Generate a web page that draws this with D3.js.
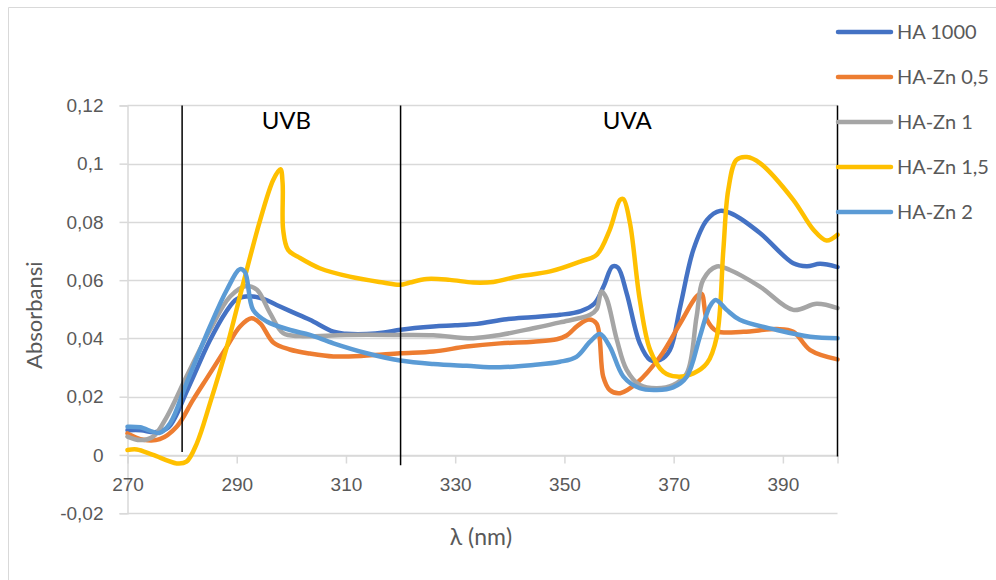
<!DOCTYPE html>
<html>
<head>
<meta charset="utf-8">
<script src="https://cdn.jsdelivr.net/npm/d3@7"></script>
<style>
  body { margin: 0; background: #fff; }
  svg { font-family: Lato, "Liberation Sans", sans-serif; }
</style>
</head>
<body>
<svg width="996" height="580"></svg>
<script>
// series values: [wavelength nm, absorbance]
const ha1000 = [[270,0.0085],[272.5,0.0085],[275,0.0078],[277.5,0.0095],[281,0.0225],[285,0.039],[288,0.049],[290,0.0535],[292.4,0.0545],[295,0.0535],[297.3,0.0515],[300,0.0492],[303.4,0.0464],[307.7,0.0423],[310,0.0416],[313.8,0.0415],[317,0.042],[320,0.043],[326,0.0441],[330,0.0445],[334,0.045],[339.4,0.0466],[344,0.0473],[349.2,0.0481],[353,0.0494],[355.5,0.052],[357.2,0.058],[358.8,0.0647],[359.8,0.0643],[361.4,0.0555],[363.8,0.0383],[365.7,0.0326],[367.5,0.0326],[369.3,0.036],[371.2,0.0509],[373.6,0.0704],[376.1,0.0807],[378.5,0.0838],[380.9,0.0826],[385.8,0.0762],[391.9,0.0658],[394.4,0.0648],[396.8,0.0656],[400,0.0645]]
const haZn05 = [[270,0.0074],[272.9,0.0052],[275.9,0.0054],[279,0.0097],[282,0.0189],[285.1,0.028],[288.2,0.0372],[290.6,0.0441],[292.7,0.0469],[294.3,0.0452],[296.7,0.0386],[299.7,0.0362],[303.4,0.0348],[307.7,0.0338],[313.8,0.0341],[319.9,0.0349],[326,0.0355],[332.1,0.0372],[338.2,0.0383],[344.3,0.0389],[348.6,0.0397],[350.4,0.041],[352.5,0.0445],[354.5,0.0465],[355.9,0.045],[357.1,0.0269],[358.3,0.0223],[360.2,0.0212],[363.2,0.0246],[367.5,0.0337],[371.2,0.0452],[374.2,0.0544],[375.1,0.0553],[376.1,0.0464],[377.9,0.0425],[382.8,0.0423],[388.9,0.0432],[391.9,0.0423],[395,0.036],[400,0.0328]]
const haZn1 = [[270,0.0063],[272.3,0.0051],[274.7,0.0063],[277.2,0.0131],[280.8,0.0269],[285.1,0.0429],[288.8,0.0544],[291.8,0.058],[293.7,0.0567],[296.1,0.0487],[298.5,0.0418],[301.6,0.0408],[310,0.0412],[319.9,0.0412],[326,0.0411],[333.3,0.0401],[338.2,0.0412],[344.3,0.0435],[349.2,0.0455],[354.7,0.0481],[355.9,0.05],[356.8,0.0561],[357.7,0.0538],[359.6,0.0395],[361.4,0.0292],[363.8,0.024],[366.9,0.0229],[369.9,0.024],[372.4,0.028],[374.2,0.0475],[375.4,0.0601],[377.9,0.0647],[380.3,0.0635],[385.8,0.0578],[391.9,0.0498],[396.2,0.0519],[400,0.0504]]
const haZn15 = [[270,0.0017],[271.7,0.0019],[274.7,0.0],[279,-0.0029],[280.8,-0.0023],[282.7,0.004],[285.1,0.0177],[288.2,0.0372],[291.2,0.059],[294.3,0.0807],[296.7,0.0945],[298,0.0981],[298.4,0.0934],[298.5,0.0773],[299.4,0.0704],[301.6,0.0676],[305.2,0.0641],[310.7,0.0612],[316.8,0.0592],[319.9,0.0584],[321.7,0.0592],[324.8,0.0604],[329,0.0601],[333.3,0.0592],[337,0.0594],[341.3,0.0612],[347.4,0.063],[352.9,0.0664],[355.9,0.0687],[358.3,0.0773],[360.2,0.0876],[360.8,0.0878],[362,0.0796],[363.8,0.0532],[365.7,0.036],[368.1,0.0286],[370.6,0.0269],[373.6,0.028],[376.1,0.0315],[377.9,0.0406],[379.1,0.0704],[380,0.091],[381.5,0.1013],[383.4,0.1023],[385.8,0.1002],[391.9,0.0876],[395.6,0.0773],[398,0.0736],[400,0.0756]]
const haZn2 = [[270,0.0097],[272.3,0.0095],[275.9,0.0076],[277.8,0.0109],[280.8,0.0246],[285.1,0.0441],[288.2,0.0567],[290.6,0.0638],[291.5,0.0628],[293,0.0498],[295.5,0.0458],[299.8,0.0429],[303.4,0.0412],[307.7,0.0383],[313.8,0.0349],[319.9,0.0324],[326,0.0312],[332.1,0.0306],[338.2,0.0301],[344.3,0.0309],[349.2,0.032],[352.2,0.0337],[354.7,0.0389],[356.5,0.0415],[358.3,0.0372],[360.8,0.0269],[363.8,0.0229],[366.9,0.0223],[369.9,0.0232],[372.4,0.0269],[374.8,0.0406],[376.6,0.0509],[377.7,0.0532],[379.7,0.0498],[382.1,0.0464],[388.9,0.0429],[395,0.0406],[400,0.0401]]

const seriesNames = ["HA 1000", "HA-Zn 0,5", "HA-Zn 1", "HA-Zn 1,5", "HA-Zn 2"]
const seriesColors = ["#4472C4", "#ED7D31", "#A5A5A5", "#FFC000", "#5B9BD5"]
const seriesData = [ha1000, haZn05, haZn1, haZn15, haZn2]

// region borders: wavelength and where the line stops at the bottom
const bandLines = [[280, 0.001], [320, -0.0035], [400, -0.0005]]
const bandLabels = [["UVB", 299.1], ["UVA", 361.5]]

const xTicks = [270, 290, 310, 330, 350, 370, 390]
const yTicks = [-0.02, 0, 0.02, 0.04, 0.06, 0.08, 0.1, 0.12]

const svg = d3.select("svg")
const x = d3.scaleLinear().domain([270, 400]).range([127.5, 837.5])
const y = d3.scaleLinear().domain([-0.02, 0.12]).range([513.2, 105.4])
const fmt = v => v === 0 ? "0" : d3.format(".2~f")(v).replace("−", "-").replace(".", ",")

// chart area border (left and top only visible)
svg.append("path")
    .attr("d", "M8.5,580 V7.5 H996")
    .style("fill", "none")
    .style("stroke", "#d9d9d9")

// horizontal gridlines
svg.append("g")
    .selectAll("line")
    .data(yTicks)
    .enter()
    .append("line")
    .attr("x1", x(270))
    .attr("x2", x(400))
    .attr("y1", d => Math.round(y(d)) + 0.5)
    .attr("y2", d => Math.round(y(d)) + 0.5)
    .style("stroke", "#d9d9d9")
    .style("stroke-width", "1.5px")

// y axis
const yAxis = d3.axisLeft(y).tickValues(yTicks).tickFormat(fmt).tickSize(8).tickPadding(16)
const yAxisG = svg.append("g")
    .attr("transform", `translate(${x(270)},0)`)
    .call(yAxis)
yAxisG.select(".domain").style("stroke", "#d9d9d9").style("stroke-width", "1.5px")
yAxisG.selectAll(".tick line").style("stroke", "#d9d9d9").style("stroke-width", "1.5px")
yAxisG.selectAll("text")
    .style("font-size", "19px")
    .style("fill", "#595959")

// x axis crossing at 0
const xAxis = d3.axisBottom(x).tickValues(xTicks).tickFormat(d3.format("d")).tickSize(8).tickPadding(14)
const xAxisG = svg.append("g")
    .attr("transform", `translate(0,${Math.round(y(0)) + 0.5})`)
    .call(xAxis)
xAxisG.select(".domain").style("stroke", "#d9d9d9").style("stroke-width", "1.5px")
xAxisG.selectAll(".tick line").style("stroke", "#d9d9d9").style("stroke-width", "1.5px")
xAxisG.selectAll("text")
    .style("font-size", "19px")
    .style("fill", "#595959")

// axis titles
svg.append("text")
    .attr("transform", `translate(42,${y(0.048)}) rotate(-90)`)
    .style("text-anchor", "middle")
    .style("font-size", "22px")
    .style("fill", "#595959")
    .text("Absorbansi")

svg.append("text")
    .attr("x", 481)
    .attr("y", 545)
    .style("text-anchor", "middle")
    .style("font-size", "23px")
    .style("fill", "#595959")
    .text("λ (nm)")

// spectra
const line = d3.line()
    .x(d => x(d[0]))
    .y(d => y(d[1]))
    .curve(d3.curveCatmullRom.alpha(0.5))

svg.append("g")
    .selectAll("path")
    .data(seriesData)
    .enter()
    .append("path")
    .attr("d", line)
    .style("fill", "none")
    .style("stroke", (d, i) => seriesColors[i])
    .style("stroke-width", "4.5px")
    .style("stroke-linejoin", "round")
    .style("stroke-linecap", "round")

// UVB / UVA borders
svg.append("g")
    .selectAll("line")
    .data(bandLines)
    .enter()
    .append("line")
    .attr("x1", d => x(d[0]))
    .attr("x2", d => x(d[0]))
    .attr("y1", y(0.12))
    .attr("y2", d => y(d[1]))
    .style("stroke", "black")
    .style("stroke-width", "1.5px")

svg.append("g")
    .selectAll("text")
    .data(bandLabels)
    .enter()
    .append("text")
    .attr("x", d => x(d[1]))
    .attr("y", 129)
    .style("text-anchor", "middle")
    .style("font-size", "24px")
    .style("fill", "black")
    .text(d => d[0])

// legend
const legend = svg.append("g")
    .selectAll("g")
    .data(seriesNames)
    .enter()
    .append("g")
    .attr("transform", (d, i) => `translate(838,${32 + i * 45})`)

legend.append("line")
    .attr("x1", 0)
    .attr("x2", 53)
    .style("stroke", (d, i) => seriesColors[i])
    .style("stroke-width", "4.5px")
    .style("stroke-linecap", "round")

legend.append("text")
    .attr("x", 59)
    .attr("y", 7)
    .style("font-size", "20px")
    .style("fill", "#595959")
    .text(d => d)
</script>
</body>
</html>
